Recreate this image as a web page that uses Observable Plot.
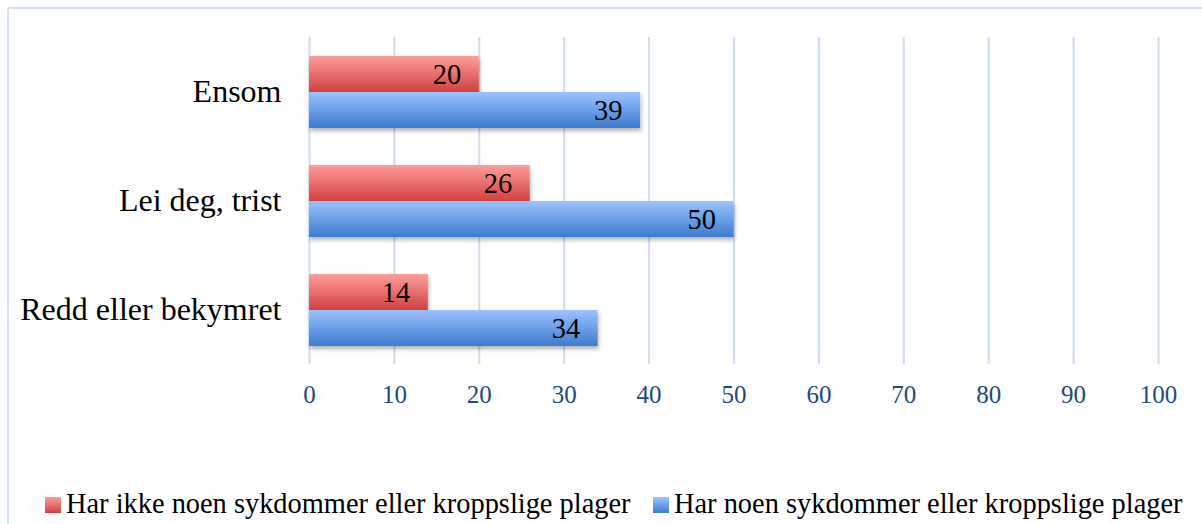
<!DOCTYPE html>
<html>
<head>
<meta charset="utf-8">
<script src="https://cdn.jsdelivr.net/npm/d3@7"></script>
<script src="https://cdn.jsdelivr.net/npm/@observablehq/plot@0.6"></script>
<style>
  html, body { margin: 0; padding: 0; background: #fff; overflow: hidden; }
  body { width: 1202px; height: 524px; position: relative; font-family: 'Liberation Serif', serif; }
  #frame { position: absolute; left: 7px; top: 7px; width: 1400px; height: 700px;
           border-left: 2px solid #d3e2f4; border-top: 2px solid #d3e2f4; }
  #chart { position: absolute; left: 0; top: 0; }
  .leg { position: absolute; top: 486px; height: 36px; display: flex; align-items: center;
         font-size: 28.4px; color: #000; white-space: nowrap; }
  .sw { width: 16px; height: 16px; margin-right: 5px; margin-top: 2px; }
</style>
</head>
<body>
<div id="frame"></div>
<div id="chart"></div>
<div class="leg" id="leg0" style="left:45px"></div>
<div class="leg" id="leg1" style="left:653px"></div>
<script>
const categories = ["Ensom", "Lei deg, trist", "Redd eller bekymret"];
const series = ["Har ikke noen sykdommer eller kroppslige plager", "Har noen sykdommer eller kroppslige plager"];
const noIllness = [20, 26, 14];
const withIllness = [39, 50, 34];
const xTicks = [0, 10, 20, 30, 40, 50, 60, 70, 80, 90, 100];

const data = categories.flatMap((c, i) => [
  {cat: c, series: series[0], value: noIllness[i]},
  {cat: c, series: series[1], value: withIllness[i]}
]);

const chart = Plot.plot({
  width: 1202,
  height: 420,
  marginLeft: 309,
  marginRight: 44,
  marginTop: 37,
  marginBottom: 56,
  style: {fontFamily: "'Liberation Serif', serif", background: "transparent", overflow: "visible"},
  x: {domain: [0, 100]},
  fy: {domain: categories, padding: 0},
  y: {domain: series, paddingInner: 0, paddingOuter: 0.473, axis: null},
  color: {domain: series, range: ["url(#gradRed)", "url(#gradBlue)"]},
  marks: [
    Plot.gridX(xTicks, {stroke: "#cddcf0", strokeOpacity: 1, strokeWidth: 2}),
    Plot.barX(data, {x: "value", y: "series", fy: "cat", fill: "series"}),
    Plot.text(data, {x: "value", y: "series", fy: "cat", text: d => String(d.value),
      textAnchor: "end", dx: -18, fontSize: 28.5, fill: "#000"}),
    Plot.axisX(xTicks, {tickSize: 0, tickPadding: 21, fontSize: 25, color: "#1f497d", label: null}),
    Plot.axisFy({anchor: "left", tickSize: 0, tickPadding: 28, fontSize: 32, color: "#000", label: null})
  ]
});

const svg = d3.select(chart);
const defs = svg.insert("defs", ":first-child");
function grad(id, top, bottom) {
  const g = defs.append("linearGradient").attr("id", id)
    .attr("x1", 0).attr("y1", 0).attr("x2", 0).attr("y2", 1);
  g.append("stop").attr("offset", "0%").attr("stop-color", top);
  g.append("stop").attr("offset", "100%").attr("stop-color", bottom);
}
grad("gradRed", "#ff9e9a", "#d0403e");
grad("gradBlue", "#9dc3ff", "#3b7bcf");
const f = defs.append("filter").attr("id", "shadow")
  .attr("x", "-5%").attr("y", "-20%").attr("width", "115%").attr("height", "150%");
f.append("feDropShadow").attr("dx", 1).attr("dy", 3).attr("stdDeviation", 2)
  .attr("flood-color", "#000").attr("flood-opacity", 0.3);
svg.selectAll("g[aria-label='bar'] rect").attr("filter", "url(#shadow)");

document.getElementById("chart").appendChild(chart);

const legCss = [
  "linear-gradient(#ff9e9a, #d0403e)",
  "linear-gradient(#9dc3ff, #3b7bcf)"
];
series.forEach((s, i) => {
  const el = document.getElementById("leg" + i);
  const sw = document.createElement("span");
  sw.className = "sw";
  sw.style.background = legCss[i];
  const t = document.createElement("span");
  t.textContent = s;
  el.appendChild(sw);
  el.appendChild(t);
});
</script>
</body>
</html>
